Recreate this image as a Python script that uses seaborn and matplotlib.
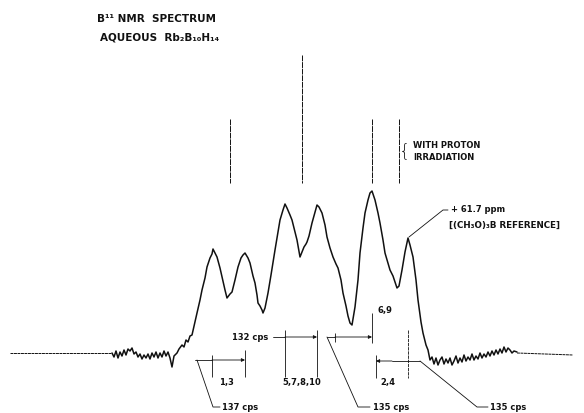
import matplotlib
matplotlib.use("Agg")
import matplotlib.pyplot as plt
import seaborn as sns
import pandas as pd

# ------------------------------------------------------------
# B11 NMR trace (x = sweep position, y = pen row)
# ------------------------------------------------------------
base_left_x = [10, 112]
base_left_y = [353, 353]

spec_x = [112, 114, 116, 118, 120, 122, 124, 126, 128, 130, 132, 134, 136, 138,
          140, 142, 144, 146, 148, 150, 152, 154, 156, 158, 160, 162, 164, 166,
          168, 170, 172, 174, 177, 179, 182, 184, 186, 188, 190, 192, 194, 195,
          197, 200, 202, 205, 207, 210, 212, 213, 215, 217, 220, 222, 225, 227,
          230, 232, 235, 238, 241, 243, 245, 248, 250, 253, 255, 257, 258, 260,
          262, 263, 265, 268, 271, 275, 278, 280, 283, 285, 287, 290, 292, 295,
          297, 300, 302, 304, 306, 307, 309, 312, 315, 317, 319, 322, 325, 327,
          330, 333, 336, 338, 341, 343, 346, 348, 350, 352, 355, 358, 360, 363,
          365, 368, 370, 372, 375, 378, 380, 383, 385, 388, 390, 393, 395, 397,
          399, 402, 405, 408, 410, 413, 416, 418, 421, 423, 426, 428, 430, 432,
          434, 436, 438, 440, 442, 444, 446, 448, 450, 452, 454, 456, 458, 460,
          462, 464, 466, 468, 470, 472, 474, 476, 478, 480, 482, 484, 486, 488,
          490, 492, 494, 496, 498, 500, 502, 504, 506, 508, 510, 512, 514, 517]
spec_y = [353, 357, 351, 358, 352, 356, 350, 355, 349, 351, 348, 354, 352, 357,
          354, 359, 355, 358, 354, 359, 353, 357, 352, 358, 353, 357, 351, 356,
          352, 358, 367, 356, 353, 349, 345, 347, 340, 342, 336, 335, 326, 322,
          313, 300, 290, 278, 267, 258, 254, 249, 253, 257, 268, 277, 290, 298,
          294, 292, 280, 267, 258, 255, 253, 258, 263, 276, 283, 295, 303, 306,
          310, 313, 308, 293, 275, 250, 232, 220, 210, 204, 208, 215, 220, 232,
          240, 257, 252, 247, 244, 242, 236, 223, 212, 205, 207, 213, 225, 237,
          248, 257, 264, 268, 280, 293, 306, 316, 323, 325, 307, 280, 253, 228,
          213, 200, 193, 191, 200, 213, 223, 240, 253, 263, 270, 276, 282, 288,
          286, 270, 252, 238, 245, 257, 280, 300, 322, 333, 345, 350, 360, 357,
          364, 358, 365, 360, 357, 364, 359, 363, 358, 365, 361, 356, 363, 358,
          362, 355, 361, 357, 360, 354, 360, 356, 359, 353, 358, 354, 357, 352,
          356, 351, 355, 350, 354, 349, 353, 347, 352, 348, 350, 353, 351, 352]

base_right_x = [517, 573]
base_right_y = [353, 355]

# decoupled lines (with proton irradiation)
stick_x = [230, 302, 372, 399]
stick_top = [119, 55, 119, 119]
stick_bottom = 183

# coupling constants and assignments
cps_labels = ["137 cps", "132 cps", "135 cps", "135 cps"]
group_labels = ["1,3", "5,7,8,10", "6,9", "2,4"]

df = pd.DataFrame({"x": spec_x, "y": spec_y})

sns.set_theme(style="white")
plt.rcParams["font.family"] = ["DejaVu Sans"]

fig = plt.figure(figsize=(5.84, 4.13), dpi=100)
ax = fig.add_axes([0, 0, 1, 1])
ax.set_xlim(0, 584)
ax.set_ylim(413, 0)
ax.axis("off")

ink = "#111111"
txt = dict(color=ink, fontweight="bold", va="center")

# baseline stubs (faint pen)
ax.plot(base_left_x, base_left_y, color=ink, lw=0.7, ls=(0, (3, 0.6)))
ax.plot(base_right_x, base_right_y, color=ink, lw=0.7, ls=(0, (3, 0.6)))
sns.lineplot(data=df, x="x", y="y", sort=False, estimator=None,
             color=ink, lw=1.1, ax=ax)

# stick spectrum
ax.vlines(stick_x, stick_top, stick_bottom, color=ink, lw=0.7,
          ls=(0, (6, 0.8)))

# titles
ax.text(97, 19, "B\u00b9\u00b9 NMR  SPECTRUM", fontsize=7.5, **txt)
ax.text(100, 38, "AQUEOUS  Rb\u2082B\u2081\u2080H\u2081\u2084", fontsize=7.5, **txt)

# with proton irradiation
ax.text(410, 151, "{", fontsize=13, color=ink, va="center", ha="right",
        fontweight="light")
ax.text(413, 146, "WITH PROTON", fontsize=6, **txt)
ax.text(413, 158, "IRRADIATION", fontsize=6, **txt)

# reference annotation
ax.plot([409, 443, 448], [237, 210, 210], color=ink, lw=0.6)
ax.text(451, 210, "+ 61.7 ppm", fontsize=6, **txt)
ax.text(449, 225, "[(CH\u2083O)\u2083B REFERENCE]", fontsize=6.3, **txt)

lw = 0.6
arrow = dict(arrowstyle="-|>", color=ink, lw=lw, mutation_scale=5,
             shrinkA=0, shrinkB=0)

# 1,3  -> 137 cps
ax.plot([195, 212], [360, 360], color=ink, lw=lw)
ax.annotate("", xy=(245, 360), xytext=(212, 360), arrowprops=arrow)
ax.vlines([212, 245], [355, 350], 377, color=ink, lw=lw)
ax.plot([197, 213, 220], [360, 407, 407], color=ink, lw=lw)
ax.text(222, 407, cps_labels[0], fontsize=6, **txt)
ax.text(226, 383, group_labels[0], fontsize=6, ha="center", **txt)

# 5,7,8,10 -> 132 cps
ax.text(268, 337, cps_labels[1], fontsize=6, ha="right", **txt)
ax.plot([273, 285], [337, 337], color=ink, lw=lw)
ax.annotate("", xy=(317, 337), xytext=(285, 337), arrowprops=arrow)
ax.vlines([285, 317], 330, 377, color=ink, lw=lw)
ax.text(302, 383, group_labels[1], fontsize=6, ha="center", **txt)

# 6,9 -> 135 cps
ax.plot([327, 335], [337, 337], color=ink, lw=lw)
ax.annotate("", xy=(372, 337), xytext=(335, 337), arrowprops=arrow)
ax.vlines([335], 333, 342, color=ink, lw=lw)
ax.vlines([372], 313, 343, color=ink, lw=lw)
ax.text(378, 310, group_labels[2], fontsize=6, **txt)
ax.plot([327, 358, 370], [337, 407, 407], color=ink, lw=lw)
ax.text(373, 407, cps_labels[2], fontsize=6, **txt)

# 2,4 -> 135 cps
ax.annotate("", xy=(376, 361), xytext=(392, 361), arrowprops=arrow)
ax.plot([392, 420], [361, 361], color=ink, lw=lw)
ax.vlines([376], 355, 378, color=ink, lw=lw)
ax.vlines([408], 330, 378, color=ink, lw=lw, ls=(0, (4, 1)))
ax.text(388, 383, group_labels[3], fontsize=6, ha="center", **txt)
ax.plot([420, 477, 488], [361, 407, 407], color=ink, lw=lw)
ax.text(490, 407, cps_labels[3], fontsize=6, **txt)

fig.savefig("out.png", dpi=100, facecolor="white")
